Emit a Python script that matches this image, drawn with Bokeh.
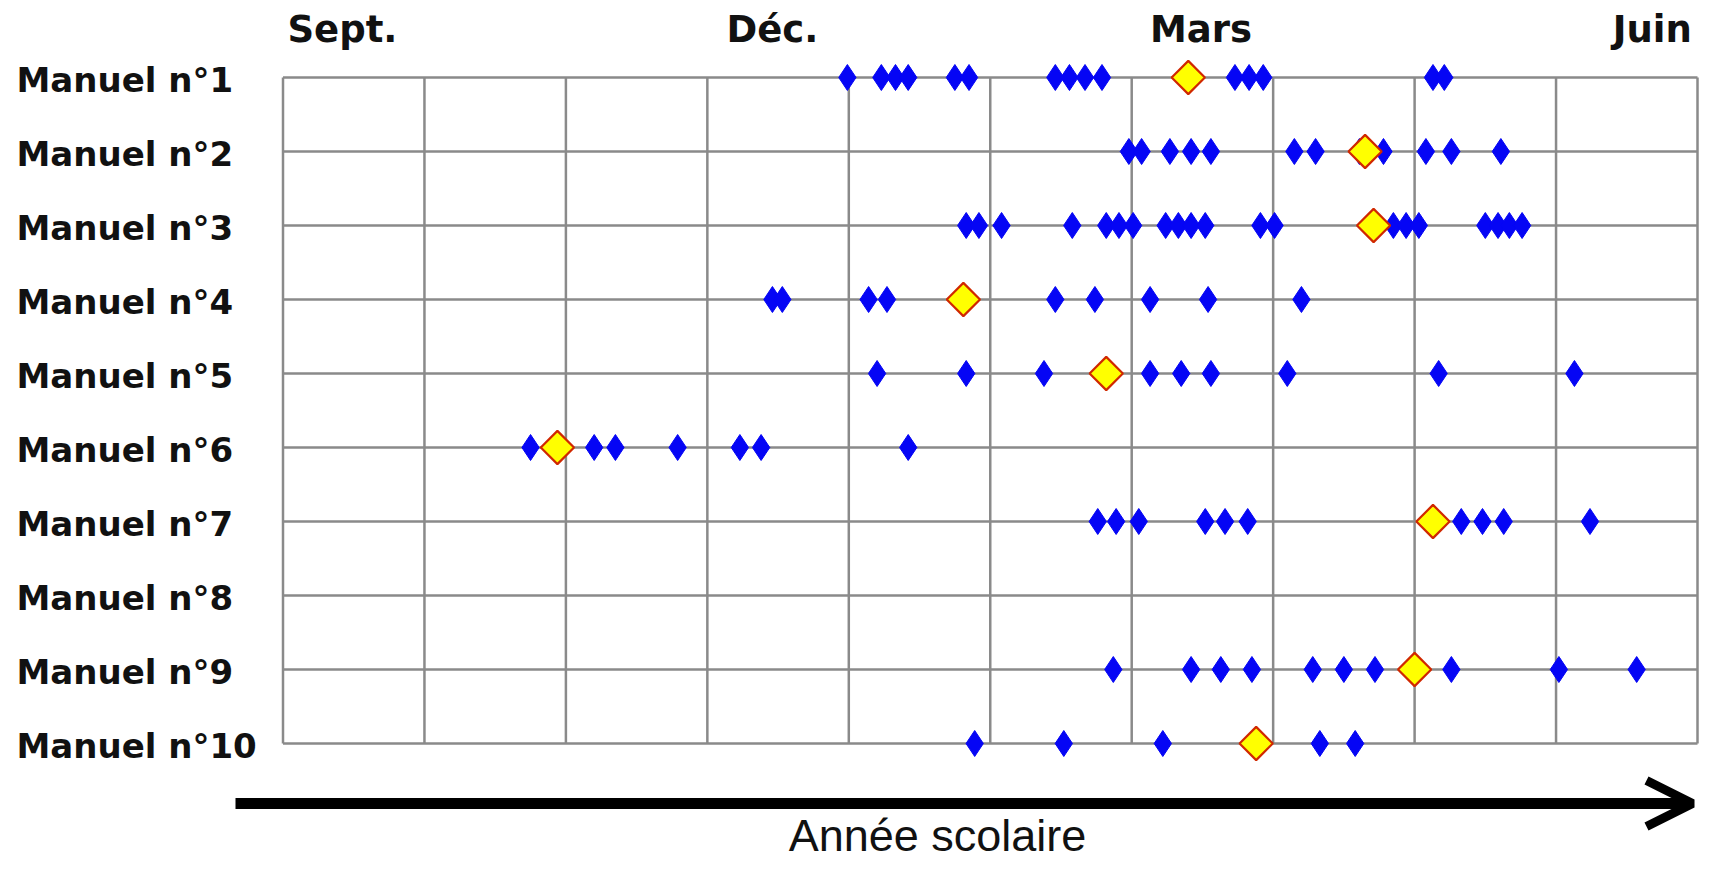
import numpy as np
from bokeh.plotting import figure
from bokeh.models import Range1d, Arrow, OpenHead
from bokeh.core.properties import value
from bokeh.embed import file_html
from bokeh.resources import INLINE

# ---------------- data ----------------
MANUELS = ["Manuel n°1", "Manuel n°2", "Manuel n°3", "Manuel n°4", "Manuel n°5",
           "Manuel n°6", "Manuel n°7", "Manuel n°8", "Manuel n°9", "Manuel n°10"]
MONTHS = ["Sept.", "Oct.", "Nov.", "Déc.", "Janv.", "Févr.", "Mars", "Avr.", "Mai", "Juin"]
SHOWN_MONTHS = ["Sept.", "Déc.", "Mars", "Juin"]
AXIS_TITLE = "Année scolaire"

# positions in months since the start of September
M1 = [3.99, 4.23, 4.33, 4.42, 4.75, 4.85, 5.46, 5.56, 5.67, 5.79, 6.73, 6.83, 6.93, 8.13, 8.21]
M2 = [5.98, 6.07, 6.27, 6.42, 6.56, 7.15, 7.30, 7.61, 7.78, 8.08, 8.26, 8.61]
M3 = [4.83, 4.92, 5.08, 5.58, 5.82, 5.91, 6.01, 6.24, 6.33, 6.42, 6.52, 6.91, 7.01,
      7.85, 7.94, 8.03, 8.50, 8.59, 8.67, 8.76]
M4 = [3.46, 3.53, 4.14, 4.27, 5.46, 5.74, 6.13, 6.54, 7.20]
M5 = [4.20, 4.83, 5.38, 6.13, 6.35, 6.56, 7.10, 8.17, 9.13]
M6 = [1.75, 2.20, 2.35, 2.79, 3.23, 3.38, 4.42]
M7 = [5.76, 5.89, 6.05, 6.52, 6.66, 6.82, 8.33, 8.48, 8.63, 9.24]
M8 = []
M9 = [5.87, 6.42, 6.63, 6.85, 7.28, 7.50, 7.72, 8.26, 9.02, 9.57]
M10 = [4.89, 5.52, 6.22, 7.33, 7.58]
YELLOW = [6.40, 7.65, 7.71, 4.81, 5.82, 1.94, 8.13, None, 8.00, 6.88]

# ---------------- build sources ----------------
blue_lists = [M1, M2, M3, M4, M5, M6, M7, M8, M9, M10]
bx, by = [], []
for i, lst in enumerate(blue_lists):
    bx += lst
    by += [i + 1] * len(lst)
yx, yy = [], []
for i, v in enumerate(YELLOW):
    if v is not None:
        yx.append(v)
        yy.append(i + 1)

n_m = len(MONTHS)
n_r = len(MANUELS)

W, H = 1699, 863
X0 = 282.5                 # canvas x of month 0
PX_M = (1697 - X0) / n_m   # pixels per month
Y1 = 77.0                  # canvas y of row 1
PX_R = 74.0                # pixels per row


def xd(px):
    return (px - X0) / PX_M


def yd(py):
    return 1 + (py - Y1) / PX_R


p = figure(width=W, height=H, output_backend="svg", toolbar_location=None,
           x_range=Range1d(xd(0), xd(W)), y_range=Range1d(yd(H), yd(0)),
           x_axis_location=None, y_axis_location=None, min_border=0)
p.outline_line_color = None
p.xgrid.grid_line_color = None
p.ygrid.grid_line_color = None
p.background_fill_color = "white"
p.border_fill_color = "white"

GRID = "#8a8a8a"
vx = np.arange(n_m + 1)
p.segment(x0=vx, y0=1, x1=vx, y1=n_r, line_color=GRID, line_width=2.5)
ry = np.arange(1, n_r + 1)
p.segment(x0=0, y0=ry, x1=n_m, y1=ry, line_color=GRID, line_width=2.5)

p.scatter(x=bx, y=by, marker="diamond", size=26, fill_color="#0505F5",
          line_color="#0505F5", line_width=1)
p.scatter(x=yx, y=yy, marker="square", angle=np.pi / 4, size=23.5,
          fill_color="#FFFF00", line_color="#D02800", line_width=2.2)

# month labels
LABEL_OFFSET = {"Sept.": 0.42, "Déc.": 0.46, "Mars": 0.49, "Juin": 0.68}
mx = [MONTHS.index(m) + LABEL_OFFSET[m] for m in SHOWN_MONTHS]
p.text(x=mx, y=[yd(28.5)] * len(mx), text=SHOWN_MONTHS,
       text_font=value("DejaVu Sans"), text_font_style="bold", text_font_size="37px",
       text_align="center", text_baseline="middle", text_color="#111111")

# row labels
p.text(x=[xd(16)] * n_r, y=list(ry + 2.5 / PX_R), text=MANUELS,
       text_font=value("DejaVu Sans"), text_font_style="bold", text_font_size="34px",
       text_align="left", text_baseline="middle", text_color="#111111")

# time arrow and its title
ay = yd(803)
p.add_layout(Arrow(end=OpenHead(size=46, line_width=9, line_color="black"),
                   x_start=xd(235), y_start=ay, x_end=xd(1692), y_end=ay,
                   line_width=11, line_color="black"))
p.text(x=[xd(937)], y=[yd(835)], text=[AXIS_TITLE],
       text_font=value("Liberation Sans"), text_font_size="45px",
       text_align="center", text_baseline="middle", text_color="#111111")

open("out.html", "w").write(file_html(p, INLINE))
